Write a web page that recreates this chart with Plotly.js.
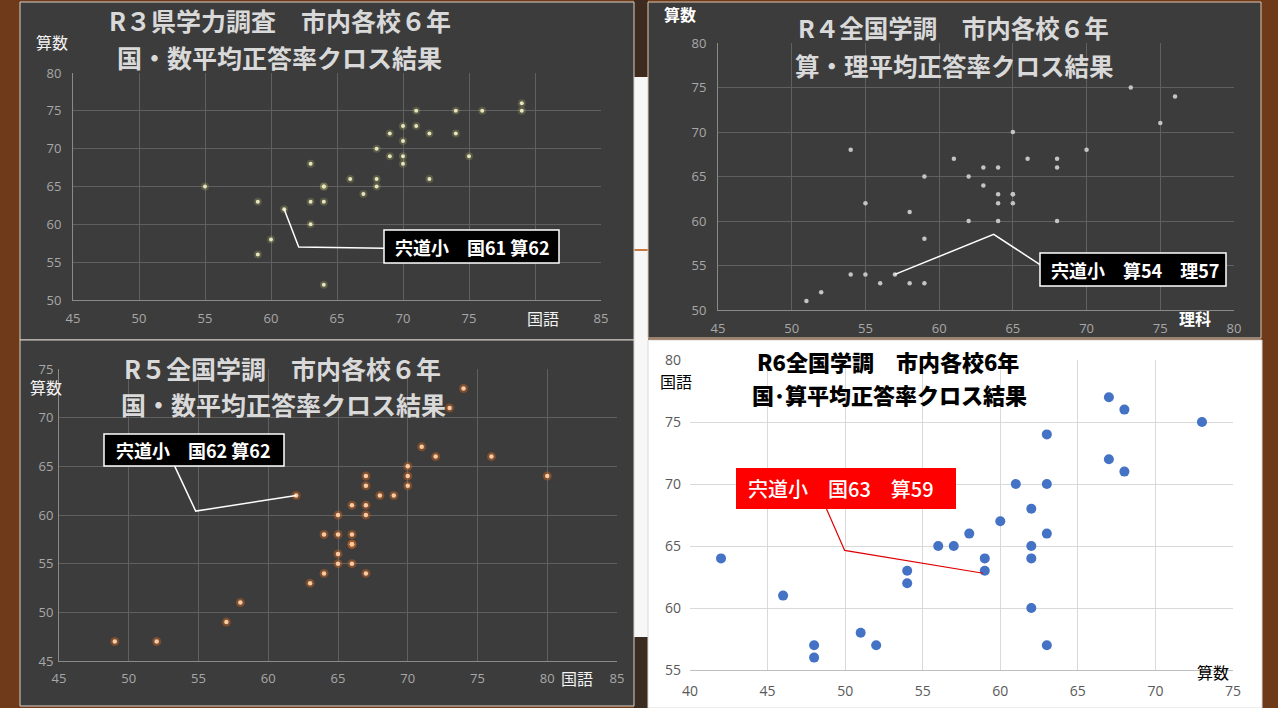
<!DOCTYPE html>
<html>
<head>
<meta charset="utf-8">
<script src="https://cdn.plot.ly/plotly-3.0.1.min.js"></script>
<style>html,body{margin:0;padding:0;background:#6e3a1a;}#chart{width:1278px;height:708px;}</style>
</head>
<body>
<div id="chart"></div>
<script>
// ---- Data ----
// R3 県学力調査: 国語 (x) vs 算数 (y)
const r3Kokugo = [55,59,59,60,61,63,63,63,64,64,64,64,66,67,68,68,68,69,69,70,70,70,70,71,71,72,72,74,74,75,76,79,79];
const r3Sansu  = [65,63,56,58,62,68,63,60,65,65,63,52,66,64,70,66,65,72,69,73,71,69,68,75,73,72,66,75,72,69,75,76,75];
// R4 全国学調: 理科 (x) vs 算数 (y)
const r4Rika   = [51,52,54,54,55,55,56,57,58,58,59,59,59,61,62,62,63,63,64,64,64,64,65,65,65,65,66,68,68,68,70,73,75,76];
const r4Sansu  = [51,52,54,68,54,62,53,54,53,61,53,58,65,67,65,60,66,64,66,63,62,60,70,63,63,62,67,67,66,60,68,75,71,74];
// R5 全国学調: 国語 (x) vs 算数 (y)
const r5Kokugo = [49,52,57,58,62,63,64,64,65,65,65,65,66,66,66,66,66,67,67,67,67,67,68,69,70,70,70,71,72,73,74,76,80];
const r5Sansu  = [47,47,49,51,62,53,54,58,60,58,56,55,61,58,57,57,55,64,63,61,60,54,62,62,65,64,63,67,66,71,73,66,64];
// R6 全国学調: 算数 (x) vs 国語 (y)
const r6Sansu  = [42,46,48,48,51,52,54,54,56,57,58,59,59,60,61,62,62,62,62,63,63,63,63,67,67,68,68,73];
const r6Kokugo = [64,61,57,56,58,57,63,62,65,65,66,64,63,67,70,68,65,64,60,74,70,66,57,77,72,76,71,75];

// Tick labels
const r3XTickVals = [45,50,55,60,65,70,75,80,85];
const r3XTickText = ['45','50','55','60','65','70','75','','85'];

// Labels
const titles = {
  r3: ['R３県学力調査　市内各校６年', '国・数平均正答率クロス結果'],
  r4: ['R４全国学調　市内各校６年', '算・理平均正答率クロス結果'],
  r5: ['R５全国学調　市内各校６年', '国・数平均正答率クロス結果'],
  r6: ['R6全国学調　市内各校6年', '国･算平均正答率クロス結果']
};
const callouts = {
  r3: '宍道小　国61 算62',
  r4: '宍道小　算54　理57',
  r5: '宍道小　国62 算62',
  r6: '宍道小　国63　算59'
};

// ---- Layout helpers (pixel -> paper) ----
const W = 1278, H = 708;
const PX = v => v / W;
const PY = v => 1 - v / H;
const JP = 'Noto Sans CJK JP, sans-serif';
const NUM = 'Open Sans, sans-serif';

const darkBg = '#3c3c3c', darkGrid = '#606060', darkLine = '#8a8a8a', darkTick = '#a8a8a8';

function darkAxis(extra) {
  return Object.assign({
    showgrid: true, gridcolor: darkGrid, gridwidth: 1,
    zeroline: false, showline: true, linecolor: darkLine, linewidth: 1,
    ticks: '', tickfont: {family: NUM, size: 13, color: darkTick},
    fixedrange: true
  }, extra);
}

const traces = [
  // R3 glow + dot
  {x: r3Kokugo, y: r3Sansu, xaxis: 'x', yaxis: 'y', type: 'scatter', mode: 'markers',
   marker: {size: 8, color: 'rgba(200,200,110,0.22)'}, hoverinfo: 'skip'},
  {x: r3Kokugo, y: r3Sansu, xaxis: 'x', yaxis: 'y', type: 'scatter', mode: 'markers',
   marker: {size: 4, color: '#e6e5c0'}},
  // R4
  {x: r4Rika, y: r4Sansu, xaxis: 'x2', yaxis: 'y2', type: 'scatter', mode: 'markers',
   marker: {size: 4.5, color: '#c4c4c4'}},
  // R5 glow + dot
  {x: r5Kokugo, y: r5Sansu, xaxis: 'x3', yaxis: 'y3', type: 'scatter', mode: 'markers',
   marker: {size: 9, color: 'rgba(220,105,30,0.40)'}, hoverinfo: 'skip'},
  {x: r5Kokugo, y: r5Sansu, xaxis: 'x3', yaxis: 'y3', type: 'scatter', mode: 'markers',
   marker: {size: 4.5, color: '#f9cba4'}},
  // R6
  {x: r6Sansu, y: r6Kokugo, xaxis: 'x4', yaxis: 'y4', type: 'scatter', mode: 'markers',
   marker: {size: 10, color: '#4472c4'}}
];

const shapes = [
  // gap strip between columns
  {type: 'rect', xref: 'paper', yref: 'paper', x0: PX(634), x1: PX(648), y0: PY(0), y1: PY(77), fillcolor: '#3e2b1f', line: {width: 0}, layer: 'below'},
  {type: 'rect', xref: 'paper', yref: 'paper', x0: PX(634), x1: PX(648), y0: PY(77), y1: PY(637), fillcolor: '#f7f7f7', line: {width: 0}, layer: 'below'},
  {type: 'rect', xref: 'paper', yref: 'paper', x0: PX(634), x1: PX(648), y0: PY(637), y1: PY(708), fillcolor: '#3b2c22', line: {width: 0}, layer: 'below'},
  {type: 'rect', xref: 'paper', yref: 'paper', x0: PX(634), x1: PX(648), y0: PY(249), y1: PY(251), fillcolor: '#c87a40', line: {width: 0}, layer: 'below'},
  // panels
  {type: 'rect', xref: 'paper', yref: 'paper', x0: PX(20), x1: PX(634), y0: PY(2), y1: PY(340), fillcolor: darkBg, line: {color: '#d8d0c8', width: 1}, layer: 'below'},
  {type: 'rect', xref: 'paper', yref: 'paper', x0: PX(648), x1: PX(1261), y0: PY(2), y1: PY(338), fillcolor: darkBg, line: {color: '#e0c8b0', width: 1}, layer: 'below'},
  {type: 'rect', xref: 'paper', yref: 'paper', x0: PX(20), x1: PX(634), y0: PY(340), y1: PY(706), fillcolor: darkBg, line: {color: '#d8d0c8', width: 1}, layer: 'below'},
  {type: 'rect', xref: 'paper', yref: 'paper', x0: PX(648), x1: PX(1262), y0: PY(340), y1: PY(708), fillcolor: '#ffffff', line: {color: '#d9d9d9', width: 1}, layer: 'below'},
  // leader lines (data coordinates)
  {type: 'path', xref: 'x', yref: 'y', path: 'M 61,62 L 62.1,57.0 L 68.56,56.85', line: {color: '#ffffff', width: 1.5}},
  {type: 'path', xref: 'x2', yref: 'y2', path: 'M 57,54 L 63.7,58.5 L 66.84,55.1', line: {color: '#ffffff', width: 1.5}},
  {type: 'path', xref: 'x3', yref: 'y3', path: 'M 53.3,65.0 L 54.8,60.4 L 62,62', line: {color: '#ffffff', width: 1.5}},
  {type: 'path', xref: 'x4', yref: 'y4', path: 'M 48.8,67.98 L 49.97,64.64 L 58.9,62.8', line: {color: '#e00000', width: 1.2}},
  // callout boxes
  {type: 'rect', xref: 'paper', yref: 'paper', x0: PX(384), x1: PX(559), y0: PY(263), y1: PY(230), fillcolor: '#000000', line: {color: '#ffffff', width: 1.5}},
  {type: 'rect', xref: 'paper', yref: 'paper', x0: PX(1040), x1: PX(1226), y0: PY(286), y1: PY(253), fillcolor: '#000000', line: {color: '#ffffff', width: 1.5}},
  {type: 'rect', xref: 'paper', yref: 'paper', x0: PX(104), x1: PX(284), y0: PY(466), y1: PY(434), fillcolor: '#000000', line: {color: '#ffffff', width: 1.5}},
  {type: 'rect', xref: 'paper', yref: 'paper', x0: PX(736), x1: PX(956), y0: PY(509), y1: PY(468), fillcolor: '#ff0000', line: {width: 0}}
];

function txt(text, x, y, font, xanchor) {
  return {text: text, xref: 'paper', yref: 'paper', x: PX(x), y: PY(y),
          xanchor: xanchor || 'center', yanchor: 'middle', showarrow: false, font: font};
}
const titleFontDark = {family: JP, size: 25, color: '#d9d9d9', weight: 'bold'};
const titleFontDark2 = {family: JP, size: 24.5, color: '#d9d9d9', weight: 'bold'};
const titleFontR6 = {family: JP, size: 22, color: '#000000', weight: 900};
const axTitleDark = {family: JP, size: 16, color: '#f2f2f2'};
const axTitleDarkBold = {family: JP, size: 16, color: '#ffffff', weight: 'bold'};
const axTitleLight = {family: JP, size: 16, color: '#000000'};
const calloutFont = {family: JP, size: 18, color: '#ffffff', weight: 'bold'};

const annotations = [
  txt(titles.r3[0], 280, 20, titleFontDark), txt(titles.r3[1], 279, 57, titleFontDark),
  txt(titles.r4[0], 953, 27, titleFontDark2), txt(titles.r4[1], 954, 65, titleFontDark2),
  txt(titles.r5[0], 282, 368, titleFontDark), txt(titles.r5[1], 283, 404, titleFontDark),
  txt(titles.r6[0], 888, 361, titleFontR6), txt(titles.r6[1], 889, 394, titleFontR6),
  txt('算数', 52, 42, axTitleDark), txt('国語', 543, 318, axTitleDark),
  txt('算数', 680, 14, axTitleDarkBold), txt('理科', 1195, 318, axTitleDarkBold),
  txt('算数', 46, 387, axTitleDark), txt('国語', 577, 678, axTitleDark),
  txt('国語', 676, 381, axTitleLight), txt('算数', 1213, 672, axTitleLight),
  txt(callouts.r3, 393, 247, calloutFont, 'left'),
  txt(callouts.r4, 1049, 270, calloutFont, 'left'),
  txt(callouts.r5, 114, 450, calloutFont, 'left'),
  txt(callouts.r6, 746, 488, {family: JP, size: 20, color: '#ffffff', weight: 500}, 'left')
];

const layout = {
  width: W, height: H,
  margin: {l: 0, r: 0, t: 0, b: 0, pad: 0},
  paper_bgcolor: '#6e3a1a', plot_bgcolor: 'rgba(0,0,0,0)',
  showlegend: false, hovermode: false,
  xaxis: darkAxis({domain: [PX(73), PX(601)], range: [45, 85], anchor: 'y',
                   tickmode: 'array', tickvals: r3XTickVals, ticktext: r3XTickText, ticklabelstandoff: 6}),
  yaxis: darkAxis({domain: [PY(300), PY(73)], range: [50, 80], dtick: 5, anchor: 'x', ticklabelstandoff: 8}),
  xaxis2: darkAxis({domain: [PX(718), PX(1234)], range: [45, 80], dtick: 5, anchor: 'y2', ticklabelstandoff: 6}),
  yaxis2: darkAxis({domain: [PY(310), PY(43)], range: [50, 80], dtick: 5, anchor: 'x2', ticklabelstandoff: 8}),
  xaxis3: darkAxis({domain: [PX(59), PX(617)], range: [45, 85], dtick: 5, anchor: 'y3', ticklabelstandoff: 5}),
  yaxis3: darkAxis({domain: [PY(661), PY(369)], range: [45, 75], dtick: 5, anchor: 'x3', ticklabelstandoff: 2}),
  xaxis4: {domain: [PX(690), PX(1233)], range: [40, 75], dtick: 5, anchor: 'y4',
           showgrid: true, gridcolor: '#d9d9d9', zeroline: false, showline: true, linecolor: '#bfbfbf',
           ticks: '', tickfont: {family: NUM, size: 14, color: '#595959'}, ticklabelstandoff: 8, fixedrange: true},
  yaxis4: {domain: [PY(670), PY(360)], range: [55, 80], dtick: 5, anchor: 'x4',
           showgrid: true, gridcolor: '#d9d9d9', zeroline: false, showline: false,
           ticks: '', tickfont: {family: NUM, size: 14, color: '#595959'}, ticklabelstandoff: 8, fixedrange: true},
  shapes: shapes,
  annotations: annotations
};

Plotly.newPlot('chart', traces, layout, {staticPlot: true, displayModeBar: false});
</script>
</body>
</html>
